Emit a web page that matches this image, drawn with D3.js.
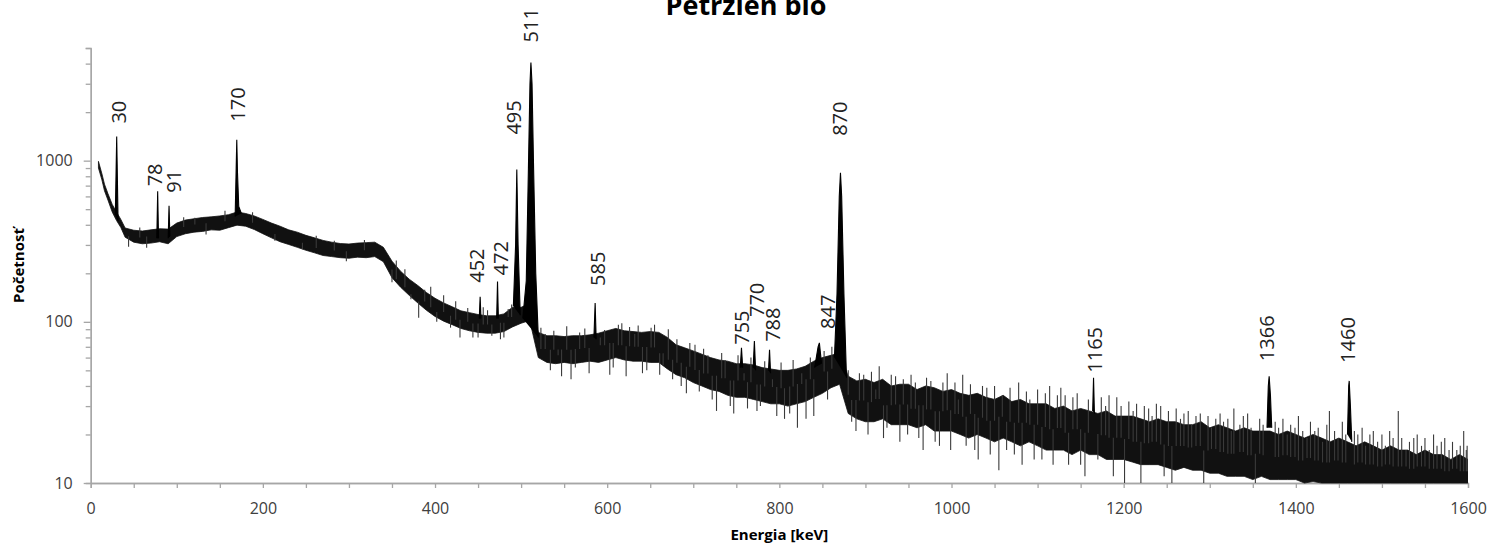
<!DOCTYPE html>
<html>
<head>
<meta charset="utf-8">
<title>Petržlen bio</title>
<script src="https://cdn.jsdelivr.net/npm/d3@7"></script>
<style>
  body { margin: 0; background: #fff; }
  .axis path, .axis line { stroke: #a6a6a6; stroke-width: 1.3; }
  .axis text { font-family: "Open Sans", sans-serif; font-size: 16px; fill: #404040; }
  .chart-title { font-family: "Open Sans", sans-serif; font-weight: bold; font-size: 27px; fill: #000; }
  .axis-title { font-family: "Open Sans", sans-serif; font-weight: bold; font-size: 15px; fill: #000; }
  .peak-label { font-family: "Open Sans", sans-serif; font-size: 20px; fill: #222; }
</style>
</head>
<body>
<div id="chart"></div>
<script>
// Spectrum: envelope of the noisy trace (low / high edge)
const bandKeV = [
  9, 13, 16, 20, 25, 30, 35, 40, 50, 60, 70, 80, 90,
  100, 110, 120, 130, 140, 150, 160, 170, 180, 190,
  200, 210, 220, 230, 240, 250, 260, 270, 280, 290,
  300, 310, 320, 330, 340, 350, 360, 370, 380, 390,
  400, 410, 420, 430, 440, 450, 460, 470, 480, 490,
  500, 510, 520, 530, 540, 550, 560, 570, 580, 590,
  600, 610, 620, 630, 640, 650, 660, 670, 680, 690,
  700, 710, 720, 730, 740, 750, 760, 770, 780, 790,
  800, 810, 820, 830, 840, 850, 860, 870, 880, 890,
  900, 910, 920, 930, 940, 950, 960, 970, 980, 990,
  1000, 1010, 1020, 1030, 1040, 1050, 1060, 1070, 1080, 1090,
  1100, 1110, 1120, 1130, 1140, 1150, 1160, 1170, 1180, 1190,
  1200, 1210, 1220, 1230, 1240, 1250, 1260, 1270, 1280, 1290,
  1300, 1310, 1320, 1330, 1340, 1350, 1360, 1370, 1380, 1390,
  1400, 1410, 1420, 1430, 1440, 1450, 1460, 1470, 1480, 1490,
  1500, 1510, 1520, 1530, 1540, 1550, 1560, 1570, 1580, 1590,
  1600
];

const bandLow = [
  900, 760, 650, 570, 480, 425, 385, 335, 312, 305, 308, 314, 305,
  338, 352, 360, 364, 372, 370, 384, 398, 392, 374,
  352, 332, 314, 302, 290, 278, 268, 258, 254, 250,
  248, 252, 250, 254, 236, 188, 164, 146, 131, 118,
  108, 101, 96, 91, 88, 86, 85, 85, 87, 93,
  98, 102, 60, 56, 55, 56, 55, 56, 57, 56,
  58, 60, 58, 57, 57, 56, 56, 51, 47, 45,
  42, 40, 38, 37, 35, 34, 34, 33, 32, 31,
  31, 30, 31, 32, 34, 36, 39, 41, 27, 25,
  24, 24, 25, 23, 23, 23, 22, 23, 21, 21,
  21, 20, 19, 20, 19, 18, 19, 18, 17, 18,
  17, 16, 16, 16, 15, 16, 15, 15, 14, 14,
  14, 13.5, 13, 13, 13, 12.5, 12, 12.5, 12, 12,
  11.5, 11.5, 11, 11, 11, 10.5, 11, 10.5, 10.5, 10.5,
  10.5, 10, 10.2, 10, 10, 10, 10, 10, 10, 10,
  10, 10, 10, 10, 10, 10, 10, 10, 10, 10,
  10
];

const bandHigh = [
  990, 830, 715, 625, 535, 480, 432, 382, 370, 366, 372, 378, 376,
  410, 428, 436, 444, 448, 454, 462, 480, 470, 454,
  432, 410, 392, 372, 360, 344, 332, 320, 312, 306,
  304, 308, 310, 312, 290, 238, 206, 184, 168, 152,
  140, 131, 124, 117, 114, 111, 109, 109, 112, 123,
  123, 130, 86, 82, 82, 81, 82, 82, 83, 85,
  88, 91, 88, 87, 86, 87, 86, 80, 72, 69,
  66, 63, 60, 58, 57, 55, 55, 54, 52, 51,
  50, 50, 51, 53, 57, 60, 62, 64, 46, 43,
  44, 42, 44, 40, 41, 41, 38, 40, 39, 37,
  38, 36, 35, 36, 34, 33, 35, 32, 33, 31,
  31, 31, 29, 30, 28, 29, 28, 27, 28, 26,
  26, 26, 25, 24, 25, 24, 24, 23, 23, 24,
  22, 23, 22, 21, 22, 21, 21, 21, 20, 21,
  20, 19, 20, 19, 18, 19, 18, 17, 18, 17,
  16, 17, 16, 16, 15, 16, 15, 15, 14, 15,
  14
];

// Single channels that stick out of the envelope (keV, counts)
const spikeKeV = [
  44, 57, 65, 121, 134, 156, 188, 214, 246, 262, 283, 297,
  318, 350, 365, 381, 395, 410, 429, 438, 450, 461, 480, 485,
  355, 372, 388, 402, 418, 424, 444, 456, 466, 476, 489, 108,
  523, 528, 534, 538, 543, 547, 553, 558, 563, 568,
  574, 579, 592, 597, 603, 607, 613, 617, 622, 626,
  632, 636, 641, 646, 651, 655, 661, 665, 671, 676,
  681, 686, 692, 696, 702, 707, 712, 717, 722, 727,
  733, 737, 743, 747, 752, 759, 763, 767, 774, 778,
  783, 792, 797, 802, 806, 812, 816, 821, 826, 831,
  836, 840, 852, 856, 861, 880, 884, 889, 893, 898,
  903, 907, 912, 916, 921, 925, 930, 935, 940, 944,
  949, 953, 958, 962, 967, 971, 976, 981, 986, 990,
  995, 999, 1004, 1008, 1013, 1017, 1022, 1027, 1031, 1036,
  1041, 1045, 1050, 1055, 1059, 1064, 1068, 1073, 1078, 1082,
  1087, 1091, 1096, 1100, 1105, 1109, 1114, 1118, 1123, 1127,
  1132, 1136, 1141, 1146, 1150, 1155, 1159, 1170, 1174, 1179,
  1183, 1188, 1192, 1197, 1201, 1206, 1211, 1215, 1220, 1224,
  1229, 1233, 1238, 1243, 1247, 1252, 1256, 1261, 1266, 1270,
  1275, 1279, 1284, 1289, 1293, 1298, 1302, 1307, 1312, 1316,
  1321, 1325, 1328, 1335, 1339, 1344, 1348, 1353, 1358, 1362,
  1376, 1380, 1385, 1390, 1394, 1399, 1403, 1408, 1413, 1417,
  1422, 1426, 1431, 1436, 1439, 1445, 1449, 1454, 1458, 1468,
  1472, 1477, 1481, 1486, 1490, 1495, 1500, 1504, 1509, 1513,
  1519, 1523, 1528, 1532, 1537, 1541, 1546, 1550, 1555, 1560,
  1564, 1569, 1573, 1578, 1582, 1587, 1591, 1595, 1598, 1599
];
const spikeCounts = [
  292, 385, 288, 442, 348, 488, 478, 318, 282, 342, 318, 238,
  322, 176, 212, 106, 165, 146, 80, 122, 80, 118, 80, 120,
  240, 138, 158, 100, 92, 134, 80, 123, 82, 78, 128, 445,
  92, 84, 50, 88, 62, 46, 94, 44, 52, 86,
  91, 48, 80, 89, 47, 52, 96, 98, 46, 93,
  84, 95, 48, 50, 92, 96, 47, 54, 90, 44,
  78, 40, 36, 74, 72, 37, 68, 62, 33, 28,
  64, 58, 30, 27, 62, 48, 29, 60, 28, 30,
  57, 44, 26, 56, 25, 27, 58, 22, 48, 25,
  60, 26, 66, 33, 70, 50, 24, 21, 48, 47,
  20, 49, 38, 53, 19, 22, 47, 46, 18, 44,
  20, 47, 42, 19, 16, 45, 43, 18, 17, 42,
  48, 16, 42, 33, 47, 17, 41, 16, 14, 40,
  39, 15, 40, 12, 35, 16, 39, 15, 42, 13,
  37, 33, 14, 38, 14, 36, 40, 13, 35, 39,
  35, 13, 34, 36, 13, 11, 33, 14, 34, 30,
  35, 11, 34, 30, 10, 32, 28, 31, 10, 30,
  29, 26, 31, 30, 11, 28, 10, 29, 25, 27,
  28, 23, 26, 27, 10, 26, 22, 25, 27, 24,
  25, 21, 29, 23, 26, 27, 22, 10, 25, 23,
  24, 22, 25, 20, 23, 22, 26, 21, 19, 24,
  21, 22, 18, 23, 28, 21, 19, 24, 20, 21,
  20, 22, 17, 20, 21, 18, 20, 17, 21, 19,
  28, 19, 16, 18, 19, 20, 17, 19, 16, 20,
  17, 18, 19, 16, 18, 16, 17, 21, 16, 17
];

// Photopeaks: label and profile points (keV, counts)
const peakLabels = ["30", "78", "91", "170", "452", "472", "495", "511", "585",
  "755", "770", "788", "847", "870", "1165", "1366", "1460"];
const peakProfiles = [
  [[28.6, 460], [30.2, 1410], [31.8, 420]],
  [[76.8, 330], [77.8, 645], [78.8, 330]],
  [[90, 330], [91, 525], [92, 340]],
  [[167.8, 450], [169, 900], [169.7, 1350], [170.5, 850], [172, 520], [175, 470]],
  [[451.4, 105], [452.4, 143], [453.4, 105]],
  [[471.6, 105], [472.6, 178], [473.6, 105]],
  [[491, 125], [493.6, 300], [495, 880], [496.5, 300], [499, 110]],
  [[502, 105], [506, 180], [508.5, 900], [510.3, 3000], [511.4, 4070], [512.7, 3000], [514.5, 900], [517, 200], [520, 80]],
  [[584.6, 80], [586, 131], [587.2, 78]],
  [[754.6, 52], [756, 69], [757.4, 52]],
  [[769.6, 52], [771, 76], [772.4, 50]],
  [[787.4, 50], [788.6, 67], [789.8, 48]],
  [[841, 52], [845, 70], [846.5, 74], [849, 55]],
  [[864, 60], [867, 150], [869.6, 600], [871, 840], [872.4, 600], [875, 150], [878, 45]],
  [[1164, 28], [1165, 45], [1166, 27]],
  [[1366.5, 22], [1368, 40], [1369, 46], [1370.5, 35], [1372, 22]],
  [[1460, 20], [1461.4, 40], [1462, 43], [1463.4, 30], [1465, 18]]
];

// Axis ticks
const xTickMajor = [0, 200, 400, 600, 800, 1000, 1200, 1400, 1600];
const xTickMinor = [50, 100, 150, 250, 300, 350, 450, 500, 550, 650, 700, 750, 850, 900, 950,
  1050, 1100, 1150, 1250, 1300, 1350, 1450, 1500, 1550];
const yTickMajor = [10, 100, 1000];
const yTickMinor = [20, 30, 40, 50, 60, 70, 80, 90, 200, 300, 400, 500, 600, 700, 800, 900,
  2000, 3000, 4000, 5000];

// Hand placement of the peak labels (px): horizontal nudge and gap above the peak
const labelDx = [2.3, -3.2, 5, 0.8, -3.5, 3.5, -2.7, 0.3, 3, 0, 2, 3.5, 8, -1, 1.7, -2, -1.7];
const labelGap = [13, 5, 13, 18, 14, 6, 35, 20, 17, 3, 24, 8, 14, 37, 5, 15, 18];

class SpectrumVis {
  constructor(_parentElement) {
    this.parentElement = _parentElement;
    this.initVis();
  }

  initVis() {
    let vis = this;

    vis.margin = { top: 48, right: 21, bottom: 65, left: 90.7 };
    vis.width = 1489 - vis.margin.left - vis.margin.right;
    vis.height = 548 - vis.margin.top - vis.margin.bottom;

    vis.root = d3
      .select("#" + vis.parentElement)
      .append("svg")
      .attr("width", 1489)
      .attr("height", 548);

    vis.svg = vis.root
      .append("g")
      .attr("transform", "translate(" + vis.margin.left + "," + vis.margin.top + ")");

    vis.x = d3.scaleLinear().domain([0, 1600]).range([0, vis.width]);
    vis.y = d3.scaleLog().domain([10, 5000]).range([vis.height, 0]).clamp(true);

    vis.svg
      .append("clipPath")
      .attr("id", "clip")
      .append("rect")
      .attr("width", vis.width)
      .attr("height", vis.height + 1);

    // Title (the top of it is cropped in the original picture) and axis titles
    vis.root
      .append("text")
      .attr("class", "chart-title")
      .attr("x", 746)
      .attr("y", 15)
      .attr("text-anchor", "middle")
      .text("Petržlen bio");

    vis.root
      .append("text")
      .attr("class", "axis-title")
      .attr("x", vis.margin.left + vis.width / 2)
      .attr("y", 540)
      .attr("text-anchor", "middle")
      .text("Energia [keV]");

    vis.root
      .append("text")
      .attr("class", "axis-title")
      .attr("transform", "translate(24," + (vis.margin.top + vis.height / 2) + ") rotate(-90)")
      .attr("text-anchor", "middle")
      .text("Početnosť");

    vis.updateVis();
  }

  updateVis() {
    let vis = this;

    // Axes: minor ticks first, then major ticks with labels
    vis.svg
      .append("g")
      .attr("class", "axis")
      .attr("transform", "translate(0," + vis.height + ")")
      .call(d3.axisBottom(vis.x).tickValues(xTickMinor).tickSize(5).tickFormat(""));
    vis.svg
      .append("g")
      .attr("class", "axis")
      .attr("transform", "translate(0," + vis.height + ")")
      .call(d3.axisBottom(vis.x).tickValues(xTickMajor).tickSize(5).tickSizeOuter(0).tickPadding(15).tickFormat(d3.format("d")));

    vis.svg
      .append("g")
      .attr("class", "axis")
      .call(d3.axisLeft(vis.y).tickValues(yTickMinor).tickSize(5).tickFormat(""));
    vis.svg
      .append("g")
      .attr("class", "axis")
      .call(d3.axisLeft(vis.y).tickValues(yTickMajor).tickSize(7).tickSizeOuter(0).tickPadding(11).tickFormat(d3.format("d")));

    let plot = vis.svg.append("g").attr("clip-path", "url(#clip)");

    // Noise envelope
    let band = bandKeV.map((e, i) => ({ e: e, lo: bandLow[i], hi: bandHigh[i] }));
    vis.area = d3
      .area()
      .x((d) => vis.x(d.e))
      .y0((d) => vis.y(d.lo))
      .y1((d) => vis.y(d.hi));

    plot
      .append("path")
      .datum(band)
      .attr("d", vis.area)
      .attr("fill", "#111")
      .attr("stroke", "#111")
      .attr("stroke-width", 0.8)
      .attr("stroke-linejoin", "round");

    // Outlying channels, drawn from the middle of the envelope
    let bisect = d3.bisector((d) => d.e).left;
    let spikes = spikeKeV.map((e, i) => {
      let j = Math.min(bisect(band, e), band.length - 1);
      return { e: e, c: spikeCounts[i], mid: Math.sqrt(band[j].lo * band[j].hi) };
    });

    plot
      .selectAll(".spike")
      .data(spikes)
      .enter()
      .append("line")
      .attr("class", "spike")
      .attr("x1", (d) => vis.x(d.e))
      .attr("x2", (d) => vis.x(d.e))
      .attr("y1", (d) => vis.y(d.mid))
      .attr("y2", (d) => vis.y(d.c))
      .attr("stroke", "#3a3a3a")
      .attr("stroke-width", 1.1);

    // Peaks
    vis.peakLine = d3
      .line()
      .x((d) => vis.x(d[0]))
      .y((d) => vis.y(d[1]));

    plot
      .selectAll(".peak")
      .data(peakProfiles)
      .enter()
      .append("path")
      .attr("class", "peak")
      .attr("d", vis.peakLine)
      .attr("fill", "#000")
      .attr("stroke", "#000")
      .attr("stroke-width", 1.1);

    // Peak labels
    let tops = peakProfiles.map((p) => p.reduce((a, b) => (b[1] > a[1] ? b : a)));

    vis.svg
      .selectAll(".peak-label")
      .data(peakLabels)
      .enter()
      .append("text")
      .attr("class", "peak-label")
      .attr("transform", (d, i) =>
        "translate(" + (vis.x(tops[i][0]) + labelDx[i]) + "," + (vis.y(tops[i][1]) - labelGap[i]) + ") rotate(-90)")
      .attr("dy", "0.36em")
      .text((d) => d);
  }
}

new SpectrumVis("chart");
</script>
</body>
</html>
